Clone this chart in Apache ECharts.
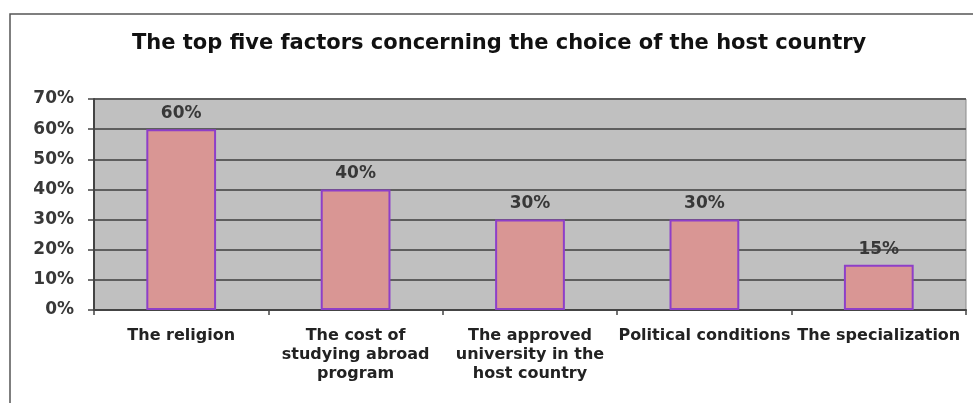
<!DOCTYPE html>
<html>
<head>
<meta charset="utf-8">
<script src="https://cdn.jsdelivr.net/npm/echarts@6/dist/echarts.min.js"></script>
<style>
html,body{margin:0;padding:0;background:#fff;}
#chart{width:973px;height:403px;}
</style>
</head>
<body>
<div id="chart"></div>
<script>
var titleText = 'The top five factors concerning the choice of the host country';
var categories = [
  'The religion',
  'The cost of\nstudying abroad\nprogram',
  'The approved\nuniversity in the\nhost country',
  'Political conditions',
  'The specialization'
];
var values = [60, 40, 30, 30, 15];
var yTicks = [0, 10, 20, 30, 40, 50, 60, 70];

var chart = echarts.init(document.getElementById('chart'), null, {renderer: 'canvas'});
var font = '"DejaVu Sans", Verdana, sans-serif';
chart.setOption({
  animation: false,
  backgroundColor: '#ffffff',
  title: {
    text: titleText,
    left: 132,
    top: 33,
    padding: 0,
    textStyle: {fontFamily: font, fontSize: 21, fontWeight: 'bold', color: '#111'}
  },
  graphic: [{
    type: 'polyline',
    shape: {points: [[10, 403], [10, 14], [973, 14]]},
    style: {stroke: '#555', lineWidth: 1.5, fill: null}
  }],
  grid: {
    left: 94, right: 7, top: 99, bottom: 93,
    show: true, backgroundColor: '#c0c0c0', borderColor: '#8a8a8a', borderWidth: 1
  },
  xAxis: {
    type: 'category',
    data: categories,
    axisLine: {lineStyle: {color: '#444', width: 2}},
    axisTick: {show: true, length: 5, lineStyle: {color: '#444', width: 1.5}},
    axisLabel: {
      interval: 0, margin: 16, fontFamily: font, fontSize: 16, fontWeight: 'bold',
      color: '#222', lineHeight: 19
    }
  },
  yAxis: {
    type: 'value',
    min: yTicks[0], max: yTicks[yTicks.length - 1], interval: 10,
    axisLine: {show: true, lineStyle: {color: '#444', width: 2}},
    axisTick: {show: true, length: 6, lineStyle: {color: '#444', width: 1.5}},
    axisLabel: {
      formatter: '{value}%', margin: 20, fontFamily: font, fontSize: 17,
      fontWeight: 'bold', color: '#383838'
    },
    splitLine: {lineStyle: {color: '#5e5e5e', width: 2}}
  },
  series: [{
    type: 'bar',
    data: values,
    barWidth: '40%',
    itemStyle: {color: '#d99694', borderColor: '#8e3fc8', borderWidth: 2},
    label: {
      show: true, position: 'top', distance: 7, formatter: '{c}%',
      fontFamily: font, fontSize: 17, fontWeight: 'bold', color: '#383838'
    }
  }]
});
</script>
</body>
</html>
